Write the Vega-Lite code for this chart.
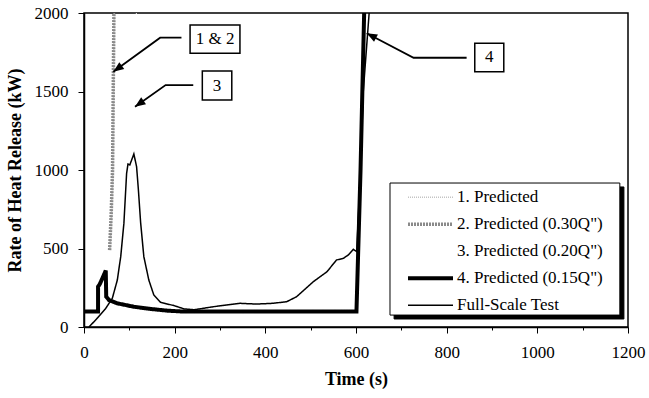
{
  "$schema": "https://vega.github.io/schema/vega-lite/v6.json",
  "width": 544,
  "height": 314,
  "autosize": "none",
  "padding": {"left": 84, "top": 13, "right": 21, "bottom": 71},
  "background": "white",
  "config": {
    "view": {"stroke": "black", "strokeWidth": 1.5},
    "font": "Liberation Serif"
  },
  "datasets": {
    "curves": [
      {"series": "1. Predicted", "i": 1, "t": 57, "q": 490},
      {"series": "1. Predicted", "i": 2, "t": 60.5, "q": 720},
      {"series": "1. Predicted", "i": 3, "t": 63.5, "q": 1000},
      {"series": "1. Predicted", "i": 4, "t": 65, "q": 1500},
      {"series": "1. Predicted", "i": 5, "t": 66.5, "q": 2000},
      {"series": "1. Predicted", "i": 6, "t": 67, "q": 2100},
      {"series": "2. Predicted (0.30Q\")", "i": 1, "t": 56.5, "q": 490},
      {"series": "2. Predicted (0.30Q\")", "i": 2, "t": 60, "q": 720},
      {"series": "2. Predicted (0.30Q\")", "i": 3, "t": 63, "q": 1000},
      {"series": "2. Predicted (0.30Q\")", "i": 4, "t": 64.5, "q": 1500},
      {"series": "2. Predicted (0.30Q\")", "i": 5, "t": 66, "q": 2000},
      {"series": "2. Predicted (0.30Q\")", "i": 6, "t": 66.5, "q": 2100},
      {"series": "3. Predicted (0.20Q\")", "i": 1, "t": 112, "q": 1300},
      {"series": "3. Predicted (0.20Q\")", "i": 2, "t": 114, "q": 1700},
      {"series": "3. Predicted (0.20Q\")", "i": 3, "t": 116, "q": 2100},
      {"series": "4. Predicted (0.15Q\")", "i": 1, "t": 0, "q": 98},
      {"series": "4. Predicted (0.15Q\")", "i": 2, "t": 31, "q": 98},
      {"series": "4. Predicted (0.15Q\")", "i": 3, "t": 31, "q": 257},
      {"series": "4. Predicted (0.15Q\")", "i": 4, "t": 35, "q": 274},
      {"series": "4. Predicted (0.15Q\")", "i": 5, "t": 48, "q": 359},
      {"series": "4. Predicted (0.15Q\")", "i": 6, "t": 49, "q": 193},
      {"series": "4. Predicted (0.15Q\")", "i": 7, "t": 55, "q": 172},
      {"series": "4. Predicted (0.15Q\")", "i": 8, "t": 73, "q": 151},
      {"series": "4. Predicted (0.15Q\")", "i": 9, "t": 110, "q": 129},
      {"series": "4. Predicted (0.15Q\")", "i": 10, "t": 147, "q": 115},
      {"series": "4. Predicted (0.15Q\")", "i": 11, "t": 184, "q": 104},
      {"series": "4. Predicted (0.15Q\")", "i": 12, "t": 221, "q": 98},
      {"series": "4. Predicted (0.15Q\")", "i": 13, "t": 601, "q": 98},
      {"series": "4. Predicted (0.15Q\")", "i": 14, "t": 610, "q": 1000},
      {"series": "4. Predicted (0.15Q\")", "i": 15, "t": 618, "q": 2000},
      {"series": "4. Predicted (0.15Q\")", "i": 16, "t": 618.5, "q": 2100},
      {"series": "Full-Scale Test", "i": 1, "t": 11, "q": 0},
      {"series": "Full-Scale Test", "i": 2, "t": 29, "q": 55},
      {"series": "Full-Scale Test", "i": 3, "t": 48, "q": 119},
      {"series": "Full-Scale Test", "i": 4, "t": 62.5, "q": 183},
      {"series": "Full-Scale Test", "i": 5, "t": 73.5, "q": 299},
      {"series": "Full-Scale Test", "i": 6, "t": 81, "q": 448},
      {"series": "Full-Scale Test", "i": 7, "t": 88, "q": 660},
      {"series": "Full-Scale Test", "i": 8, "t": 94, "q": 979},
      {"series": "Full-Scale Test", "i": 9, "t": 97, "q": 1038},
      {"series": "Full-Scale Test", "i": 10, "t": 101, "q": 1032},
      {"series": "Full-Scale Test", "i": 11, "t": 110, "q": 1102},
      {"series": "Full-Scale Test", "i": 12, "t": 116, "q": 1021},
      {"series": "Full-Scale Test", "i": 13, "t": 120, "q": 873},
      {"series": "Full-Scale Test", "i": 14, "t": 125, "q": 662},
      {"series": "Full-Scale Test", "i": 15, "t": 132, "q": 448},
      {"series": "Full-Scale Test", "i": 16, "t": 143, "q": 299},
      {"series": "Full-Scale Test", "i": 17, "t": 154, "q": 204},
      {"series": "Full-Scale Test", "i": 18, "t": 169, "q": 157},
      {"series": "Full-Scale Test", "i": 19, "t": 199, "q": 136},
      {"series": "Full-Scale Test", "i": 20, "t": 221, "q": 115},
      {"series": "Full-Scale Test", "i": 21, "t": 243, "q": 110},
      {"series": "Full-Scale Test", "i": 22, "t": 285, "q": 129},
      {"series": "Full-Scale Test", "i": 23, "t": 344, "q": 151},
      {"series": "Full-Scale Test", "i": 24, "t": 380, "q": 146},
      {"series": "Full-Scale Test", "i": 25, "t": 417, "q": 151},
      {"series": "Full-Scale Test", "i": 26, "t": 447, "q": 161},
      {"series": "Full-Scale Test", "i": 27, "t": 469, "q": 193},
      {"series": "Full-Scale Test", "i": 28, "t": 506, "q": 289},
      {"series": "Full-Scale Test", "i": 29, "t": 536, "q": 352},
      {"series": "Full-Scale Test", "i": 30, "t": 557, "q": 427},
      {"series": "Full-Scale Test", "i": 31, "t": 572, "q": 437},
      {"series": "Full-Scale Test", "i": 32, "t": 583, "q": 459},
      {"series": "Full-Scale Test", "i": 33, "t": 594, "q": 495},
      {"series": "Full-Scale Test", "i": 34, "t": 601.5, "q": 480},
      {"series": "Full-Scale Test", "i": 35, "t": 610, "q": 1000},
      {"series": "Full-Scale Test", "i": 36, "t": 616, "q": 1500},
      {"series": "Full-Scale Test", "i": 37, "t": 629, "q": 2000},
      {"series": "Full-Scale Test", "i": 38, "t": 631, "q": 2080}
    ],
    "legendbox": [
      {"part": "shadow", "t1": 684, "t2": 1191, "q1": 51, "q2": 892},
      {"part": "box", "t1": 675, "t2": 1182, "q1": 76, "q2": 917}
    ],
    "boxes": [
      {"label": "1 & 2", "t1": 234, "t2": 344, "q1": 1743, "q2": 1924, "tc": 289, "qc": 1834},
      {"label": "3", "t1": 261, "t2": 326, "q1": 1446, "q2": 1631, "tc": 293.5, "qc": 1538},
      {"label": "4", "t1": 862, "t2": 926, "q1": 1626, "q2": 1807, "tc": 894, "qc": 1717}
    ],
    "arrows": [
      {"a": "1 & 2", "i": 1, "t": 215, "q": 1843},
      {"a": "1 & 2", "i": 2, "t": 168, "q": 1843},
      {"a": "1 & 2", "i": 3, "t": 64.6, "q": 1626},
      {"a": "3", "i": 1, "t": 241, "q": 1541},
      {"a": "3", "i": 2, "t": 180, "q": 1541},
      {"a": "3", "i": 3, "t": 112.5, "q": 1403},
      {"a": "4", "i": 1, "t": 844, "q": 1715},
      {"a": "4", "i": 2, "t": 727, "q": 1715},
      {"a": "4", "i": 3, "t": 623.6, "q": 1871}
    ]
  },
  "layer": [
    {
      "mark": {"type": "rule", "strokeDash": [10, 7], "strokeWidth": 1.5, "color": "black"},
      "encoding": {"y": {"datum": 1000, "type": "quantitative"}}
    },
    {
      "data": {"name": "curves"},
      "mark": {"type": "line", "clip": true, "strokeCap": "butt", "strokeJoin": "miter"},
      "encoding": {
        "x": {
          "field": "t", "type": "quantitative",
          "scale": {"domain": [0, 1200], "nice": false, "zero": false},
          "axis": {
            "title": "Time (s)",
            "values": [0, 100, 200, 300, 400, 500, 600, 700, 800, 900, 1000, 1100, 1200],
            "labelExpr": "datum.value % 200 === 0 ? datum.label : ''",
            "format": "d",
            "grid": false,
            "domainColor": "black", "domainWidth": 1.5,
            "tickColor": "black", "tickWidth": 1,
            "tickSize": {"condition": {"test": "datum.value % 200 === 0", "value": 6}, "value": 3},
            "labelFont": "Liberation Serif", "labelFontSize": 17, "labelColor": "black",
            "labelPadding": 11, "labelFlush": false, "labelOverlap": false,
            "titleFont": "Liberation Serif", "titleFontSize": 18, "titleFontWeight": "bold",
            "titleColor": "black", "titlePadding": 10
          }
        },
        "y": {
          "field": "q", "type": "quantitative",
          "scale": {"domain": [0, 2000], "nice": false},
          "axis": {
            "title": "Rate of Heat Release (kW)",
            "values": [0, 125, 250, 375, 500, 625, 750, 875, 1000, 1125, 1250, 1375, 1500, 1625, 1750, 1875, 2000],
            "labelExpr": "datum.value % 250 === 0 ? datum.label : ''",
            "format": "d",
            "grid": false,
            "domainColor": "black", "domainWidth": 1.5,
            "tickColor": "black", "tickWidth": 1,
            "tickSize": {"condition": {"test": "datum.value % 250 === 0", "value": 6}, "value": 3},
            "labelFont": "Liberation Serif", "labelFontSize": 17, "labelColor": "black",
            "labelPadding": 10, "labelFlush": false, "labelOverlap": false,
            "titleFont": "Liberation Serif", "titleFontSize": 18, "titleFontWeight": "bold",
            "titleColor": "black", "titlePadding": 10
          }
        },
        "order": {"field": "i", "type": "quantitative"},
        "color": {
          "field": "series", "type": "nominal",
          "scale": {
            "type": "ordinal",
            "domain": ["1. Predicted", "2. Predicted (0.30Q\")", "3. Predicted (0.20Q\")", "4. Predicted (0.15Q\")", "Full-Scale Test"],
            "range": ["#c4c4c4", "#8a8a8a", "#ffffff", "#000000", "#000000"]
          },
          "legend": {
            "title": null, "orient": "none", "legendX": 322, "legendY": 171,
            "symbolType": "stroke", "symbolSize": 2025, "clipHeight": 26.3,
            "rowPadding": 0, "padding": 0, "labelOffset": 2, "labelLimit": 400,
            "labelFont": "Liberation Serif", "labelFontSize": 17, "labelColor": "black"
          }
        },
        "strokeWidth": {
          "field": "series", "type": "nominal",
          "scale": {
            "type": "ordinal",
            "domain": ["1. Predicted", "2. Predicted (0.30Q\")", "3. Predicted (0.20Q\")", "4. Predicted (0.15Q\")", "Full-Scale Test"],
            "range": [1.5, 3.5, 1, 4, 1.5]
          },
          "legend": {
            "title": null, "orient": "none", "legendX": 322, "legendY": 171,
            "symbolType": "stroke", "symbolSize": 2025, "clipHeight": 26.3,
            "rowPadding": 0, "padding": 0, "labelOffset": 2, "labelLimit": 400,
            "labelFont": "Liberation Serif", "labelFontSize": 17, "labelColor": "black"
          }
        },
        "strokeDash": {
          "field": "series", "type": "nominal",
          "scale": {
            "type": "ordinal",
            "domain": ["1. Predicted", "2. Predicted (0.30Q\")", "3. Predicted (0.20Q\")", "4. Predicted (0.15Q\")", "Full-Scale Test"],
            "range": [[1, 1], [2, 1], [1, 0], [1, 0], [1, 0]]
          },
          "legend": {
            "title": null, "orient": "none", "legendX": 322, "legendY": 171,
            "symbolType": "stroke", "symbolSize": 2025, "clipHeight": 26.3,
            "rowPadding": 0, "padding": 0, "labelOffset": 2, "labelLimit": 400,
            "labelFont": "Liberation Serif", "labelFontSize": 17, "labelColor": "black"
          }
        }
      }
    },
    {
      "data": {"name": "legendbox"},
      "mark": {"type": "rect", "strokeWidth": 1},
      "encoding": {
        "x": {"field": "t1", "type": "quantitative"},
        "x2": {"field": "t2"},
        "y": {"field": "q1", "type": "quantitative"},
        "y2": {"field": "q2"},
        "fill": {"field": "part", "type": "nominal", "scale": {"domain": ["shadow", "box"], "range": ["black", "white"]}, "legend": null},
        "stroke": {"value": "black"},
        "order": {"field": "t1", "type": "quantitative", "sort": "descending"}
      }
    },
    {
      "data": {"name": "arrows"},
      "mark": {"type": "line", "color": "black", "strokeWidth": 1.8},
      "encoding": {
        "x": {"field": "t", "type": "quantitative"},
        "y": {"field": "q", "type": "quantitative"},
        "detail": {"field": "a"},
        "order": {"field": "i", "type": "quantitative"}
      }
    },
    {
      "data": {"values": [{"t": 64.6, "q": 1626}]},
      "mark": {"type": "point", "shape": "M0,0L-0.8,2L0.8,2Z", "size": 110, "filled": true, "color": "black", "opacity": 1, "angle": 234},
      "encoding": {"x": {"field": "t", "type": "quantitative"}, "y": {"field": "q", "type": "quantitative"}}
    },
    {
      "data": {"values": [{"t": 112.5, "q": 1403}]},
      "mark": {"type": "point", "shape": "M0,0L-0.8,2L0.8,2Z", "size": 110, "filled": true, "color": "black", "opacity": 1, "angle": 235},
      "encoding": {"x": {"field": "t", "type": "quantitative"}, "y": {"field": "q", "type": "quantitative"}}
    },
    {
      "data": {"values": [{"t": 623.6, "q": 1871}]},
      "mark": {"type": "point", "shape": "M0,0L-0.8,2L0.8,2Z", "size": 110, "filled": true, "color": "black", "opacity": 1, "angle": 297.6},
      "encoding": {"x": {"field": "t", "type": "quantitative"}, "y": {"field": "q", "type": "quantitative"}}
    },
    {
      "data": {"name": "boxes"},
      "mark": {"type": "rect", "fill": "white", "stroke": "black", "strokeWidth": 1.5},
      "encoding": {
        "x": {"field": "t1", "type": "quantitative"},
        "x2": {"field": "t2"},
        "y": {"field": "q1", "type": "quantitative"},
        "y2": {"field": "q2"}
      }
    },
    {
      "data": {"name": "boxes"},
      "mark": {"type": "text", "font": "Liberation Serif", "fontSize": 17, "color": "black", "align": "center", "baseline": "middle"},
      "encoding": {
        "x": {"field": "tc", "type": "quantitative"},
        "y": {"field": "qc", "type": "quantitative"},
        "text": {"field": "label"}
      }
    }
  ]
}
